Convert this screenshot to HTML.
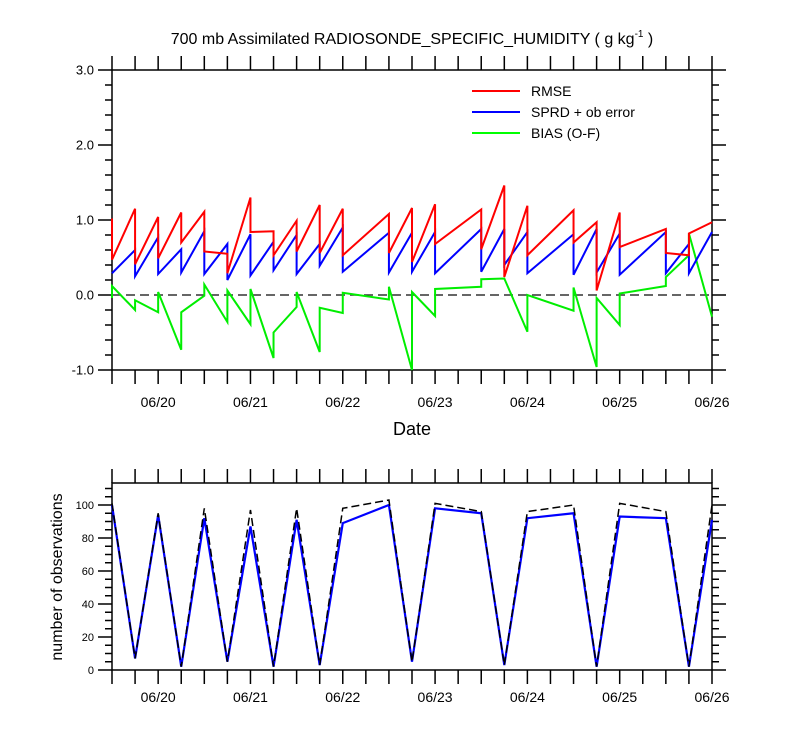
<!DOCTYPE html>
<html><head><meta charset="utf-8"><style>
html,body{margin:0;padding:0;background:#fff;}
svg{display:block;font-family:"Liberation Sans",sans-serif;}
</style></head><body>
<svg id="chart" width="800" height="750" viewBox="0 0 800 750" xmlns="http://www.w3.org/2000/svg">
<text x="412" y="44" font-size="16" text-anchor="middle">700 mb Assimilated RADIOSONDE_SPECIFIC_HUMIDITY ( g kg<tspan font-size="10" dy="-7">-1</tspan><tspan dy="7"> )</tspan></text>
<g id="topPanel"></g>
<g id="botPanel"></g>
<text x="412" y="435" font-size="18" text-anchor="middle">Date</text>
<text transform="translate(62,577) rotate(-90)" font-size="16" text-anchor="middle">number of observations</text>
<g>
<line x1="472" y1="91" x2="520" y2="91" stroke="#f00" stroke-width="2"/>
<text x="531" y="96" font-size="14">RMSE</text>
<line x1="472" y1="112" x2="520" y2="112" stroke="#00f" stroke-width="2"/>
<text x="531" y="117" font-size="14">SPRD + ob error</text>
<line x1="472" y1="133" x2="520" y2="133" stroke="#0f0" stroke-width="2"/>
<text x="531" y="138" font-size="14">BIAS (O-F)</text>
</g>
</svg>
<script>
// time index = 6-hour steps from 06/19 12Z
var times = [0,1,2,3,4,5,6,7,8,9,10,12,13,14,16,17,18,20,21,22,24,25,26];
var rmseFc = [1.02,1.15,1.04,1.10,1.11,0.55,1.30,0.85,0.99,1.20,1.15,1.08,1.16,1.21,1.14,1.46,1.19,1.13,0.97,1.10,0.88,0.53,0.97];
var rmseAn = [0.47,0.41,0.49,0.70,0.58,0.29,0.84,0.53,0.58,0.56,0.53,0.56,0.44,0.68,0.61,0.24,0.53,0.70,0.06,0.64,0.56,0.82,0.97];
var sprdFc = [0.29,0.60,0.77,0.61,0.85,0.68,0.81,0.71,0.80,0.68,0.90,0.83,0.83,0.84,0.88,0.88,0.84,0.81,0.88,0.82,0.84,0.68,0.84];
var sprdAn = [0.29,0.25,0.28,0.30,0.28,0.20,0.26,0.33,0.28,0.39,0.31,0.30,0.31,0.29,0.31,0.40,0.29,0.27,0.30,0.27,0.29,0.29,0.84];
var biasFc = [-0.04,-0.20,-0.23,-0.73,-0.01,-0.36,-0.39,-0.84,-0.16,-0.76,-0.24,-0.06,-1.0,-0.28,0.11,0.22,-0.49,-0.21,-0.96,-0.40,0.12,0.53,-0.29];
var biasAn = [0.12,-0.07,0.04,-0.23,0.14,0.06,0.08,-0.50,0.04,-0.17,0.03,0.11,0.04,0.08,0.21,0.22,0.00,0.10,-0.04,0.02,0.24,0.82,-0.29];
var obsTimes = [0,1,2,3,4,5,6,7,8,9,10,12,13,14,16,17,18,20,21,22,24,25,26];
var obsUsed = [100,7,94,2,92,5,87,2,91,3,89,100,5,98,95,3,92,95,2,93,92,2,91];
var obsTotal = [101,7,95,2,98,5,97,2,98,3,98,103,5,101,96,3,96,100,2,101,96,2,100];
var dateLabels = ["06/20","06/21","06/22","06/23","06/24","06/25","06/26"];
var dateTicks = [2,6,10,14,18,22,26];
var topYTicks = [-1,0,1,2,3];
var topYLabels = ["-1.0","0.0","1.0","2.0","3.0"];
var botYTicks = [0,20,40,60,80,100];

var NS="http://www.w3.org/2000/svg";
var X0=112,X1=712,NT=26;
function xs(t){return X0+(X1-X0)*t/NT;}
var T0=70,T1=370; function yt(v){return T1-(v+1)*(T1-T0)/4;}
var B0=483,B1=670; function yb(v){return B1-v*1.65;}
function mk(par,tag,attrs){var e=document.createElementNS(NS,tag);for(var k in attrs)e.setAttribute(k,attrs[k]);par.appendChild(e);return e;}
var topG=document.getElementById('topPanel'),botG=document.getElementById('botPanel');

function frame(g,y0,y1,yfn,ymin,ymax,minorStep,majors,labels,fs,lblOff){
  var r=mk(g,'rect',{x:X0,y:y0,width:X1-X0,height:y1-y0,fill:'none',stroke:'#000','stroke-width':1.5});
  
  
  for(var t=0;t<=NT;t++){
    var x=xs(t);
    var a=mk(g,'line',{x1:x,y1:y1,x2:x,y2:y1+14,stroke:'#000','stroke-width':1.5});
    
    
    var b=mk(g,'line',{x1:x,y1:y0,x2:x,y2:y0-14,stroke:'#000','stroke-width':1.5});
    
    
  }
  var n=Math.round((ymax-ymin)/minorStep);
  for(var k=0;k<=n;k++){
    var v=ymin+k*minorStep;
    var y=yfn(v);var isMaj=majors.some(function(m){return Math.abs(m-v)<1e-6;});
    var L=isMaj?14:7;
    var c=mk(g,'line',{x1:X0,y1:y,x2:X0-L,y2:y,stroke:'#000','stroke-width':1.5});
    
    
    var d=mk(g,'line',{x1:X1,y1:y,x2:X1+L,y2:y,stroke:'#000','stroke-width':1.5});
    
    
  }
  majors.forEach(function(m,i){
    var tx=mk(g,'text',{x:X0-18,y:yfn(m)+fs*0.36,'font-size':fs,'text-anchor':'end'});
    tx.textContent=labels[i];
    
    
  });
  dateTicks.forEach(function(t,i){
    var tx=mk(g,'text',{x:xs(t),y:y1+lblOff,'font-size':14,'text-anchor':'middle'});
    tx.textContent=dateLabels[i];
    
    
  });
}
frame(topG,T0,T1,yt,-1,3,0.2,topYTicks,topYLabels,13,37);
frame(botG,B0,B1,yb,0,110,5,botYTicks,botYTicks.map(String),11,32);

var zl=mk(topG,'line',{x1:X0,y1:yt(0),x2:X1,y2:yt(0),stroke:'#333','stroke-width':1.5,'stroke-dasharray':'9,5'});



function saw(fc,an,color,name){
  var d='';
  times.forEach(function(t,i){
    d+=(i===0?'M':'L')+xs(t)+','+yt(fc[i])+'L'+xs(t)+','+yt(an[i]);
  });
  var p=mk(topG,'path',{d:d,fill:'none',stroke:color,'stroke-width':2,'stroke-linejoin':'miter'});
  
  
}
saw(biasFc,biasAn,'#00ee00','bias-line');
saw(sprdFc,sprdAn,'#0000ff','sprd-line');
saw(rmseFc,rmseAn,'#ff0000','rmse-line');

function poly(vals,color,w,dash,name){
  var pts=obsTimes.map(function(t,i){return xs(t)+','+yb(vals[i]);}).join(' ');
  var a={points:pts,fill:'none',stroke:color,'stroke-width':w};
  if(dash)a['stroke-dasharray']=dash;
  var p=mk(botG,'polyline',a);
  
  
}
poly(obsUsed,'#0000ff',2.2,null,'obs-used-line');
poly(obsTotal,'#000',1.5,'8,4','obs-total-line');
</script>
</body></html>
